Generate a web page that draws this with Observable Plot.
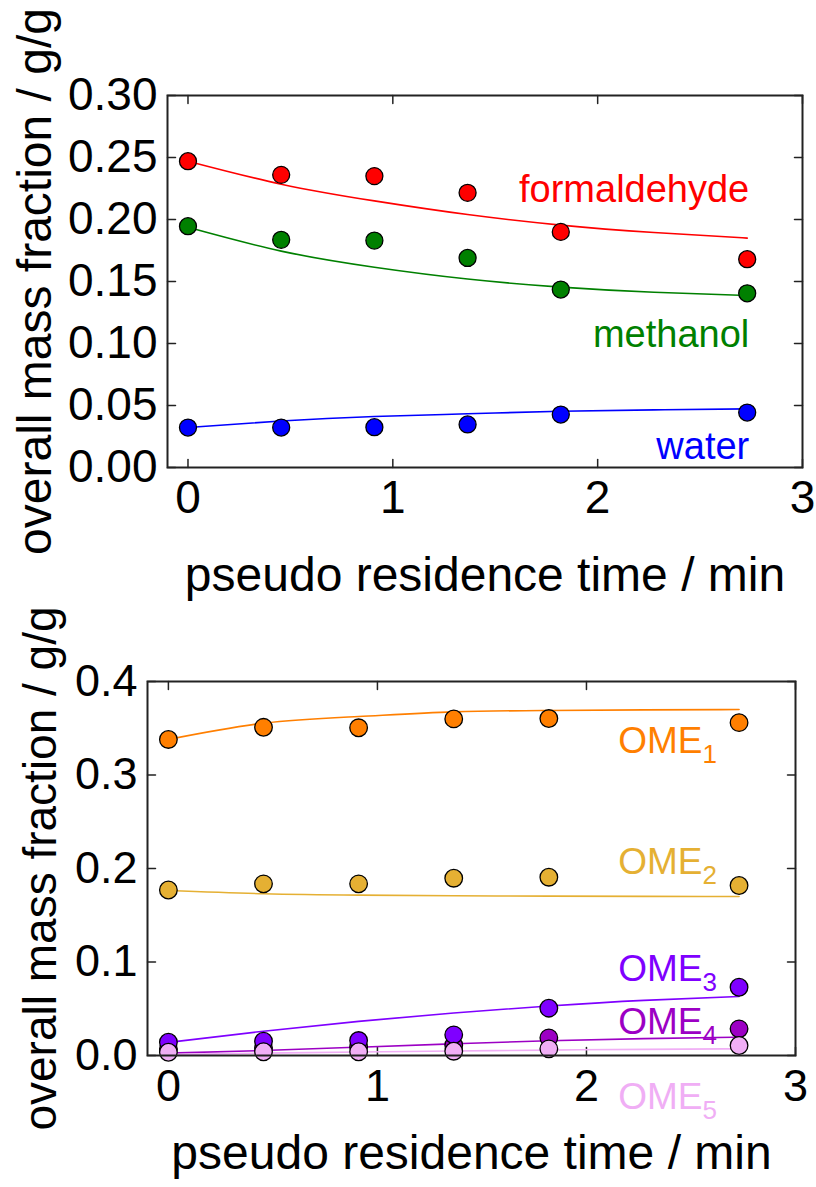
<!DOCTYPE html>
<html>
<head>
<meta charset="utf-8">
<script src="https://cdn.jsdelivr.net/npm/d3@7"></script>
<script src="https://cdn.jsdelivr.net/npm/@observablehq/plot@0.6"></script>
<style>
  html, body { margin: 0; padding: 0; background: white; }
  #wrap { position: relative; width: 816px; height: 1187px; font-family: "Liberation Sans", Arial, sans-serif; }
  #top, #bottom { position: absolute; left: 0; }
  #top { top: 0; }
  #bottom { top: 605px; }
</style>
</head>
<body>
<div id="wrap"><div id="top"></div><div id="bottom"></div></div>
<script>
// ---------- data ----------
const time = [0, 0.455, 0.91, 1.365, 1.82, 2.73];
const modelTime = [0, 0.455, 0.91, 1.365, 1.82, 2.275, 2.73];

const formaldehyde = [0.247, 0.236, 0.235, 0.2215, 0.190, 0.168];
const methanol = [0.1946, 0.1836, 0.183, 0.169, 0.1435, 0.1405];
const water = [0.0322, 0.0322, 0.0325, 0.0347, 0.0427, 0.0443];

const formaldehydeModel = [0.247, 0.2285, 0.215, 0.204, 0.1955, 0.1895, 0.185];
const methanolModel = [0.1937, 0.1745, 0.1615, 0.152, 0.1455, 0.1413, 0.1387];
const waterModel = [0.0322, 0.0375, 0.0411, 0.0433, 0.0454, 0.0465, 0.0473];

const ome1 = [0.338, 0.351, 0.3505, 0.360, 0.3604, 0.356];
const ome2 = [0.177, 0.1836, 0.1836, 0.1896, 0.1907, 0.1818];
const ome3 = [0.0142, 0.0153, 0.016, 0.0221, 0.0506, 0.073];
const ome4 = [0.007, 0.008, 0.009, 0.011, 0.0189, 0.0285];
const ome5 = [0.0035, 0.004, 0.004, 0.0046, 0.0071, 0.0107];

const ome1Model = [0.338, 0.3554, 0.3626, 0.3675, 0.369, 0.3697, 0.370];
const ome2Model = [0.1765, 0.173, 0.1715, 0.1708, 0.1705, 0.1702, 0.170];
const ome3Model = [0.014, 0.026, 0.0365, 0.0455, 0.053, 0.059, 0.0631];
const ome4Model = [0.0025, 0.0053, 0.0089, 0.0125, 0.0158, 0.018, 0.0196];
const ome5Model = [0.001, 0.0025, 0.0037, 0.0048, 0.0058, 0.0066, 0.0071];

const topSeries = ["formaldehyde", "methanol", "water"];
const topColors = ["#ff0000", "#008000", "#0000ff"];
const bottomSeries = ["OME1", "OME2", "OME3", "OME4", "OME5"];
const bottomBase = ["OME", "OME", "OME", "OME", "OME"];
const bottomSub = ["1", "2", "3", "4", "5"];
const bottomColors = ["#ff7f00", "#e5b033", "#7f00ff", "#9c00c4", "#f0aef5"];

const xTicks = [0, 1, 2, 3];
const yTicksTop = [0, 0.05, 0.10, 0.15, 0.20, 0.25, 0.30];
const yTicksBottom = [0, 0.1, 0.2, 0.3, 0.4];

const xLabel = "pseudo residence time / min";
const yLabel = "overall mass fraction / g/g";

// ---------- tables ----------
function points(name, vals) { return vals.map((v, i) => ({series: name, t: time[i], v})); }
function model(name, vals) { return vals.map((v, i) => ({series: name, t: modelTime[i], v})); }

const topPts = [...points("formaldehyde", formaldehyde), ...points("methanol", methanol), ...points("water", water)];
const topLines = [...model("formaldehyde", formaldehydeModel), ...model("methanol", methanolModel), ...model("water", waterModel)];
// drawing order: OME1, OME2, OME4, OME3, OME5
const botPts = [...points("OME1", ome1), ...points("OME2", ome2), ...points("OME4", ome4), ...points("OME3", ome3), ...points("OME5", ome5)];
const botLines = [...model("OME1", ome1Model), ...model("OME2", ome2Model), ...model("OME3", ome3Model), ...model("OME4", ome4Model), ...model("OME5", ome5Model)];

const topLabelY = {formaldehyde: 0.214, methanol: 0.097, water: 0.0065};
const botLabelY = {OME1: 0.3233, OME2: 0.1943, OME3: 0.0795, OME4: 0.0232, OME5: -0.0567};
const topLabels = topSeries.map(s => ({series: s}));
const botLabels = bottomSeries.map((s, i) => ({series: s, base: bottomBase[i], sub: bottomSub[i]}));

const FONT = "Liberation Sans, Arial, Helvetica, sans-serif";

const tickShape = {draw(context, l) { context.moveTo(0, 0); context.lineTo(0, -l); }};

function frameTicks(xt, yt, len) {
  const o = {stroke: "#222", strokeWidth: 1.5, length: len, anchor: "start", shape: tickShape};
  return [
    Plot.vector(yt, {...o, y: d => d, frameAnchor: "left", rotate: 90}),
    Plot.vector(yt, {...o, y: d => d, frameAnchor: "right", rotate: -90}),
    Plot.vector(xt, {...o, x: d => d, frameAnchor: "bottom", rotate: 0}),
    Plot.vector(xt, {...o, x: d => d, frameAnchor: "top", rotate: 180})
  ];
}

// ---------- top panel ----------
const topPlot = Plot.plot({
  width: 816, height: 605,
  marginLeft: 167, marginRight: 14, marginTop: 95, marginBottom: 138,
  style: {fontFamily: FONT, background: "transparent", overflow: "visible"},
  x: {domain: [-0.1, 3]},
  y: {domain: [0, 0.3]},
  color: {domain: topSeries, range: topColors},
  marks: [
    Plot.axisY({ticks: yTicksTop, tickSize: 0, tickPadding: 10, fontSize: 46, tickFormat: d3.format(".2f"), label: null, fill: "#000"}),
    Plot.axisX({ticks: xTicks, tickSize: 0, tickPadding: 13, fontSize: 46, tickFormat: d3.format("d"), label: null, fill: "#000"}),
    ...frameTicks(xTicks, yTicksTop, 8),
    Plot.line(topLines, {x: "t", y: "v", z: "series", stroke: "series", strokeWidth: 1.6, curve: "natural"}),
    Plot.dot(topPts, {x: "t", y: "v", fill: "series", stroke: "#000", strokeWidth: 1.3, r: 8.5}),
    Plot.text(topLabels, {x: () => 2.74, y: d => topLabelY[d.series], text: "series", fill: "series", textAnchor: "end", lineAnchor: "bottom", fontSize: 38}),
    Plot.frame({stroke: "#222", strokeWidth: 2}),
    Plot.text([yLabel], {text: d => d, frameAnchor: "left", rotate: -90, dx: -117, lineAnchor: "bottom", textAnchor: "middle", fontSize: 48, fill: "#000"}),
    Plot.text([xLabel], {text: d => d, frameAnchor: "bottom", dy: 123, lineAnchor: "bottom", textAnchor: "middle", fontSize: 48, fill: "#000"})
  ]
});
document.getElementById("top").appendChild(topPlot);

// ---------- bottom panel ----------
const botPlot = Plot.plot({
  width: 816, height: 582,
  marginLeft: 147, marginRight: 21, marginTop: 76, marginBottom: 132,
  style: {fontFamily: FONT, background: "transparent", overflow: "visible"},
  x: {domain: [-0.1, 3]},
  y: {domain: [0, 0.4]},
  color: {domain: bottomSeries, range: bottomColors},
  marks: [
    Plot.axisY({ticks: yTicksBottom, tickSize: 0, tickPadding: 10, fontSize: 45, tickFormat: d3.format(".1f"), label: null, fill: "#000"}),
    Plot.axisX({ticks: xTicks, tickSize: 0, tickPadding: 14, fontSize: 45, tickFormat: d3.format("d"), label: null, fill: "#000"}),
    ...frameTicks(xTicks, yTicksBottom, 8),
    Plot.line(botLines, {x: "t", y: "v", z: "series", stroke: "series", strokeWidth: 1.6, curve: "natural"}),
    Plot.dot(botPts, {x: "t", y: "v", fill: "series", stroke: "#000", strokeWidth: 1.3, r: 8.8}),
    Plot.text(botLabels, {x: () => 2.555, y: d => botLabelY[d.series], text: "base", fill: "series", textAnchor: "end", lineAnchor: "bottom", fontSize: 37}),
    Plot.text(botLabels, {x: () => 2.555, y: d => botLabelY[d.series], text: "sub", fill: "series", textAnchor: "start", lineAnchor: "bottom", dy: 10, fontSize: 26}),
    Plot.frame({stroke: "#222", strokeWidth: 2}),
    Plot.text([yLabel], {text: d => d, frameAnchor: "left", rotate: -90, dx: -92, lineAnchor: "bottom", textAnchor: "middle", fontSize: 46, fill: "#000"}),
    Plot.text([xLabel], {text: d => d, frameAnchor: "bottom", dy: 113, lineAnchor: "bottom", textAnchor: "middle", fontSize: 48, fill: "#000"})
  ]
});
document.getElementById("bottom").appendChild(botPlot);
</script>
</body>
</html>
